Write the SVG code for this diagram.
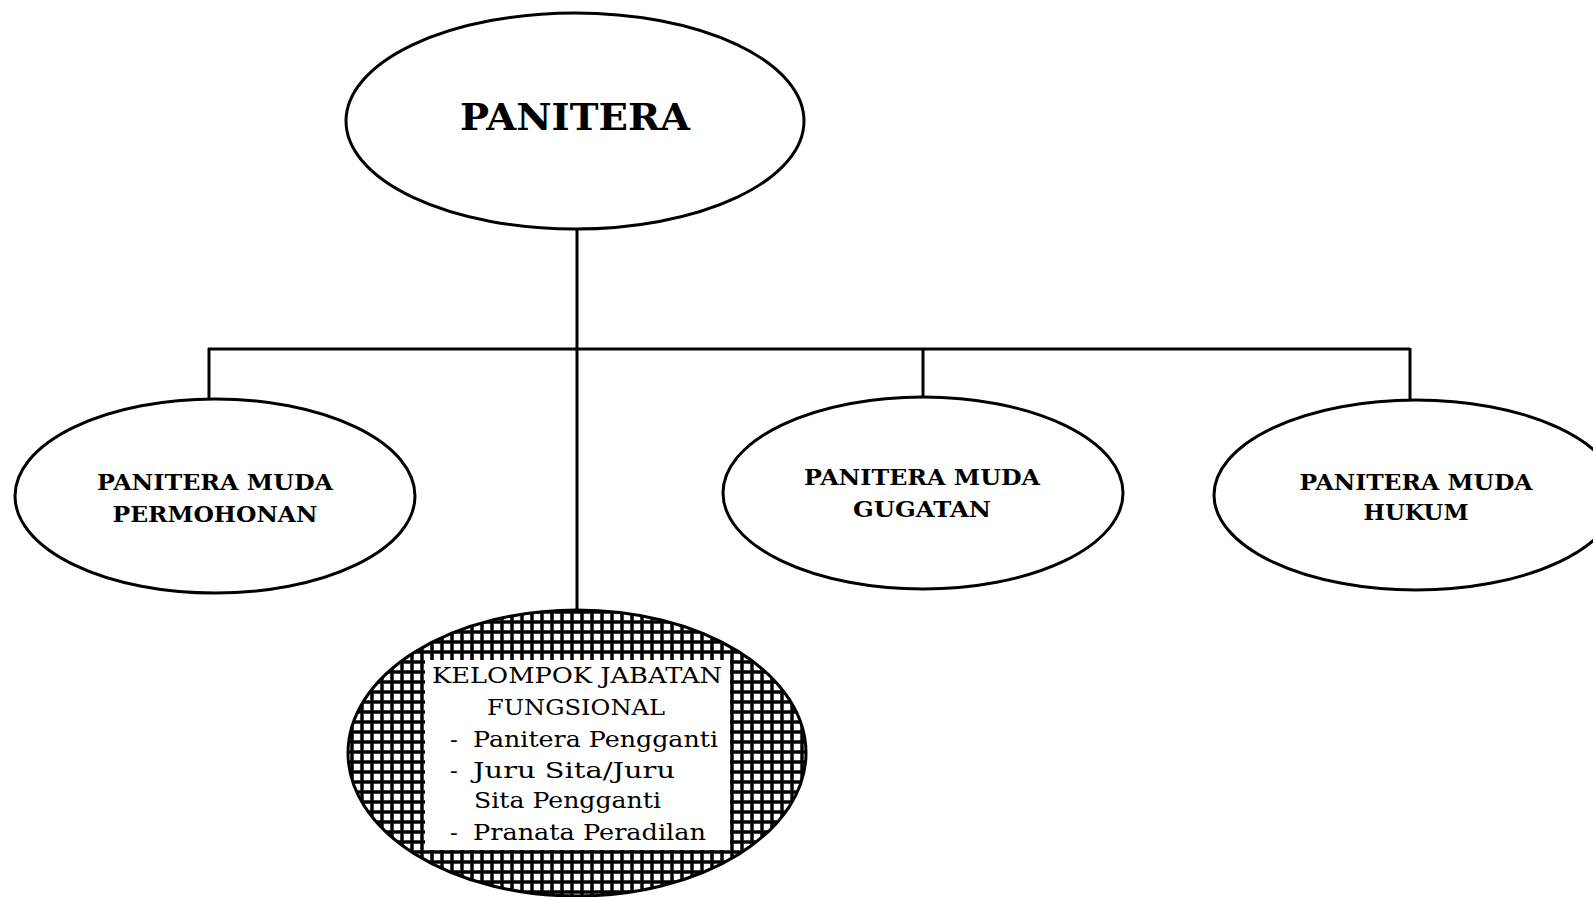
<svg xmlns="http://www.w3.org/2000/svg" width="1593" height="897" viewBox="0 0 1593 897">
<style>
.node{fill:#fff;stroke:#000;stroke-width:3}
.conn{stroke:#000;stroke-width:3;fill:none}
.lbl{font-family:"DejaVu Serif","Liberation Serif",serif;font-weight:bold;font-size:22px;fill:#000;text-anchor:middle}
.big{font-size:38px}
.fn{font-family:"DejaVu Serif","Liberation Serif",serif;font-size:23px;fill:#000}
</style>
<defs>
<pattern id="grid" width="10" height="10" patternUnits="userSpaceOnUse">
<rect width="10" height="10" fill="#fff"/>
<rect x="0" y="0" width="10" height="4" fill="#888"/>
<rect x="0" y="0" width="4" height="10" fill="#888"/>
<rect x="0.5" y="0" width="10" height="3" fill="#000" transform="translate(-0.5,0.5)"/>
<rect x="0.5" y="0" width="3" height="10" fill="#000"/>
</pattern>
</defs>
<rect width="1593" height="897" fill="#fff"/>
<g id="connectors">
<line class="conn" x1="577" y1="228" x2="577" y2="610"/>
<line class="conn" x1="208" y1="349" x2="1410" y2="349"/>
<line class="conn" x1="209" y1="348" x2="209" y2="399"/>
<line class="conn" x1="923" y1="348" x2="923" y2="397"/>
<line class="conn" x1="1410" y1="348" x2="1410" y2="401"/>
</g>
<g id="panitera">
<ellipse class="node" cx="575" cy="121" rx="229" ry="108"/>
<text class="lbl big" x="575" y="130" textLength="230" lengthAdjust="spacingAndGlyphs">PANITERA</text>
</g>
<g id="permohonan">
<ellipse class="node" cx="215" cy="496" rx="200" ry="97"/>
<text class="lbl" x="215" y="490" textLength="236" lengthAdjust="spacingAndGlyphs">PANITERA MUDA</text>
<text class="lbl" x="215" y="522" textLength="205" lengthAdjust="spacingAndGlyphs">PERMOHONAN</text>
</g>
<g id="gugatan">
<ellipse class="node" cx="923" cy="493" rx="200" ry="96"/>
<text class="lbl" x="922" y="485" textLength="236" lengthAdjust="spacingAndGlyphs">PANITERA MUDA</text>
<text class="lbl" x="922" y="517" textLength="138" lengthAdjust="spacingAndGlyphs">GUGATAN</text>
</g>
<g id="hukum">
<ellipse class="node" cx="1416" cy="495" rx="202" ry="95"/>
<text class="lbl" x="1416" y="490" textLength="233" lengthAdjust="spacingAndGlyphs">PANITERA MUDA</text>
<text class="lbl" x="1416" y="520" textLength="105" lengthAdjust="spacingAndGlyphs">HUKUM</text>
</g>
<g id="fungsional">
<ellipse cx="577" cy="753" rx="229" ry="143" fill="url(#grid)" stroke="#000" stroke-width="3"/>
<rect x="425" y="660" width="305" height="190" fill="#fff"/>
<text class="fn" x="432" y="683" textLength="290" lengthAdjust="spacingAndGlyphs">KELOMPOK JABATAN</text>
<text class="fn" x="487" y="715" textLength="178" lengthAdjust="spacingAndGlyphs">FUNGSIONAL</text>
<text class="fn" x="450" y="747">-</text>
<text class="fn" x="473" y="747" textLength="245" lengthAdjust="spacingAndGlyphs">Panitera Pengganti</text>
<text class="fn" x="450" y="778">-</text>
<text class="fn" x="473" y="778" textLength="202" lengthAdjust="spacingAndGlyphs">Juru Sita/Juru</text>
<text class="fn" x="474" y="808" textLength="187" lengthAdjust="spacingAndGlyphs">Sita Pengganti</text>
<text class="fn" x="450" y="840">-</text>
<text class="fn" x="473" y="840" textLength="233" lengthAdjust="spacingAndGlyphs">Pranata Peradilan</text>
</g>
</svg>
